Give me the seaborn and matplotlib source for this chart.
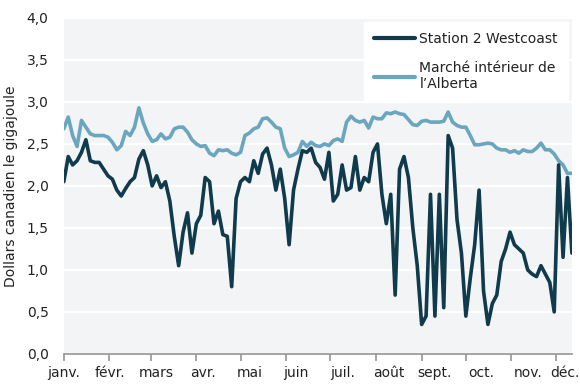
import pandas as pd
import numpy as np
import matplotlib.pyplot as plt
import seaborn as sns

# prix quotidiens (échantillon tous les 3 jours), $ CA / GJ
start_date = "2019-01-01"
step_days = 3

station2 = [2.05, 2.35, 2.25, 2.3, 2.4, 2.55, 2.3, 2.28, 2.28, 2.2, 2.12, 2.08, 1.95, 1.88, 1.97, 2.05, 2.1,
            2.32, 2.42, 2.25, 2.0, 2.12, 1.98, 2.05, 1.82, 1.4, 1.05, 1.45, 1.68, 1.2, 1.55, 1.65, 2.1, 2.05,
            1.55, 1.7, 1.42, 1.4, 0.8, 1.85, 2.05, 2.1, 2.05, 2.3, 2.15, 2.38, 2.45, 2.25, 1.95, 2.2,
            1.85, 1.3, 1.95, 2.2, 2.42, 2.4, 2.45, 2.28, 2.22, 2.08, 2.4, 1.82, 1.9, 2.25, 1.95, 1.98, 2.35,
            1.95, 2.1, 2.05, 2.4, 2.5, 1.9, 1.55, 1.9, 0.7, 2.2, 2.35, 2.1, 1.5, 1.05, 0.35, 0.45,
            1.9, 0.45, 1.9, 0.55, 2.6, 2.45, 1.6, 1.2, 0.45, 0.9, 1.3, 1.95, 0.75, 0.35, 0.6, 0.7, 1.1,
            1.25, 1.45, 1.3, 1.25, 1.2, 1.0, 0.95, 0.92, 1.05, 0.95, 0.85, 0.5, 2.25, 1.15, 2.1, 1.2]

aeco = [2.68, 2.82, 2.6, 2.47, 2.78, 2.7, 2.62, 2.6, 2.6, 2.6, 2.58, 2.52, 2.43, 2.48, 2.65, 2.6, 2.7,
        2.93, 2.75, 2.62, 2.53, 2.55, 2.62, 2.56, 2.58, 2.68, 2.7, 2.7, 2.64, 2.55, 2.5, 2.47, 2.48, 2.39,
        2.36, 2.43, 2.42, 2.43, 2.39, 2.37, 2.4, 2.6, 2.63, 2.68, 2.7, 2.8, 2.81, 2.76, 2.7, 2.68,
        2.45, 2.35, 2.37, 2.4, 2.53, 2.47, 2.52, 2.48, 2.47, 2.5, 2.48, 2.54, 2.56, 2.53, 2.76, 2.83, 2.78,
        2.76, 2.78, 2.69, 2.82, 2.8, 2.8, 2.87, 2.86, 2.88, 2.86, 2.85, 2.79, 2.73, 2.72, 2.77, 2.78,
        2.76, 2.76, 2.76, 2.77, 2.88, 2.76, 2.72, 2.7, 2.7, 2.6, 2.49, 2.49, 2.5, 2.51, 2.5, 2.45, 2.43,
        2.43, 2.4, 2.42, 2.39, 2.43, 2.41, 2.41, 2.45, 2.51, 2.43, 2.43, 2.38, 2.3, 2.25, 2.15, 2.15]

series_names = ["Station 2 Westcoast", "Marché intérieur de\nl’Alberta"]
month_labels = ["janv.", "févr.", "mars", "avr.", "mai", "juin",
                "juil.", "août", "sept.", "oct.", "nov.", "déc."]
y_ticks = [0.0, 0.5, 1.0, 1.5, 2.0, 2.5, 3.0, 3.5, 4.0]

dates = pd.date_range(start_date, periods=len(station2), freq=f"{step_days}D")
df = pd.DataFrame({
    "date": np.concatenate([dates, dates]),
    "prix": station2 + aeco,
    "serie": [series_names[0]] * len(station2) + [series_names[1]] * len(aeco),
})

sns.set_theme(style="white")
plt.rcParams["font.family"] = ["DejaVu Sans"]

fig = plt.figure(figsize=(5.8, 3.91), dpi=100)
ax = fig.add_axes([0.110, 0.095, 0.876, 0.859])
ax.set_facecolor("#f3f4f6")

sns.lineplot(data=df, x="date", y="prix", hue="serie", hue_order=series_names[::-1],
             palette=["#6ba6bf", "#0f3b4c"], linewidth=2.6, ax=ax, legend=False)

ax.set_ylim(0, 4.0)
ax.set_yticks(y_ticks)
ax.set_yticklabels([f"{v:.1f}".replace(".", ",") for v in y_ticks], fontsize=10, color="#222222")
ax.yaxis.grid(True, color="white", linewidth=1.6)
ax.set_axisbelow(True)
ax.tick_params(axis="y", length=0, pad=11)

# graduations au début de chaque mois
month_starts = pd.date_range(start_date, periods=12, freq="MS")
ax.set_xticks(month_starts)
ax.set_xticklabels([])
ax.tick_params(axis="x", which="major", length=5, color="#999999", direction="out", bottom=True)
ax.set_xlim(pd.Timestamp(start_date), pd.Timestamp("2019-12-12"))

# étiquettes de mois, un peu décalées comme dans l'original
last_label = pd.Timestamp("2019-12-07")
for i, lab in enumerate(month_labels):
    pos = min(pd.Timestamp(start_date) + pd.Timedelta(days=31.5 * i), last_label)
    ax.text(pos, -0.035, lab, transform=ax.get_xaxis_transform(), ha="center", va="top",
            fontsize=10, color="#222222", clip_on=False)

for s in ["top", "right", "left"]:
    ax.spines[s].set_visible(False)
ax.spines["bottom"].set_color("#999999")

ax.set_xlabel("")
ax.set_ylabel("Dollars canadien le gigajoule", fontsize=10, color="#222222", labelpad=6)

handles = [plt.Line2D([], [], color="#0f3b4c", linewidth=3),
           plt.Line2D([], [], color="#6ba6bf", linewidth=3)]
leg = ax.legend(handles, series_names, loc="upper right", fontsize=10, frameon=True,
                fancybox=False, handlelength=3, handletextpad=0.3, borderaxespad=0.3,
                borderpad=0.7, labelspacing=1.1, facecolor="white", edgecolor="white",
                framealpha=1)
for t in leg.get_texts():
    t.set_color("#222222")

fig.savefig("out.png", dpi=100)
